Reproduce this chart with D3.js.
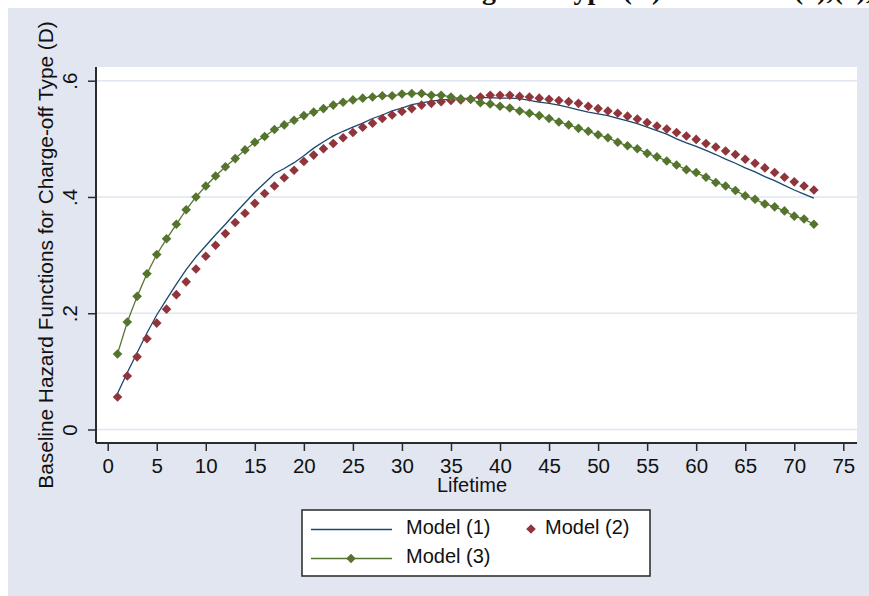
<!DOCTYPE html>
<html>
<head>
<meta charset="utf-8">
<script src="https://cdn.jsdelivr.net/npm/d3@7"></script>
<style>
  html, body { margin: 0; padding: 0; background: #ffffff; }
  svg { display: block; }
  text { font-family: "Liberation Sans", Arial, sans-serif; fill: #111; }
</style>
</head>
<body>
<svg id="chart" width="869" height="596"></svg>
<script>
// ---------------- data ----------------
const lifetime = [1,2,3,4,5,6,7,8,9,10,11,12,13,14,15,16,17,18,19,20,21,22,23,24,25,26,27,28,29,30,31,32,33,34,35,36,
  37,38,39,40,41,42,43,44,45,46,47,48,49,50,51,52,53,54,55,56,57,58,59,60,61,62,63,64,65,66,67,68,69,70,71,72];

const model1 = [0.062,0.098,0.132,0.166,0.197,0.224,0.250,0.275,0.297,0.316,0.335,0.353,0.372,0.390,0.408,0.424,0.440,0.449,
  0.459,0.471,0.484,0.495,0.505,0.513,0.520,0.527,0.535,0.541,0.548,0.553,0.559,0.562,0.565,0.567,0.568,0.569,
  0.570,0.571,0.571,0.570,0.570,0.569,0.566,0.563,0.561,0.558,0.554,0.550,0.546,0.543,0.540,0.535,0.531,0.526,
  0.520,0.514,0.508,0.500,0.493,0.487,0.480,0.473,0.465,0.458,0.450,0.443,0.435,0.428,0.420,0.412,0.405,0.398];

const model2 = [0.056,0.092,0.125,0.156,0.183,0.207,0.232,0.254,0.276,0.298,0.317,0.337,0.356,0.372,0.389,0.406,0.419,0.433,
  0.446,0.461,0.472,0.483,0.492,0.502,0.511,0.520,0.527,0.535,0.541,0.547,0.552,0.558,0.561,0.564,0.566,0.567,
  0.568,0.572,0.575,0.575,0.575,0.573,0.572,0.570,0.568,0.566,0.564,0.561,0.556,0.552,0.548,0.544,0.539,0.534,
  0.528,0.522,0.517,0.511,0.505,0.499,0.492,0.486,0.479,0.473,0.465,0.458,0.450,0.442,0.434,0.426,0.419,0.412];

const model3 = [0.130,0.185,0.229,0.268,0.301,0.328,0.353,0.378,0.400,0.419,0.436,0.452,0.466,0.481,0.494,0.504,0.516,0.524,
  0.532,0.540,0.546,0.552,0.558,0.563,0.567,0.570,0.572,0.574,0.574,0.577,0.578,0.578,0.575,0.575,0.572,0.569,
  0.568,0.562,0.560,0.556,0.553,0.548,0.544,0.540,0.535,0.529,0.524,0.518,0.513,0.507,0.502,0.494,0.488,0.483,
  0.475,0.469,0.462,0.455,0.447,0.442,0.434,0.425,0.419,0.411,0.402,0.396,0.388,0.383,0.376,0.367,0.362,0.353];

const xTicks = [0,5,10,15,20,25,30,35,40,45,50,55,60,65,70,75];
const yTicks = [0, 0.2, 0.4, 0.6];
const yTickLabels = ["0", ".2", ".4", ".6"];
const seriesNames = ["Model (1)", "Model (2)", "Model (3)"];
const titleText = "Baseline Hazard Functions for Charge-off Type (D) for Model (1),(2),(3)";
const yTitle = "Baseline Hazard Functions for Charge-off Type (D)";
const xTitle = "Lifetime";

// ---------------- layout ----------------
const svg = d3.select("#chart");
const W = 869, H = 596;
const colors = { navy: "#1a476f", maroon: "#90353b", green: "#55752f" };
const plot = { left: 96, right: 857, top: 67, bottom: 443 };

// cut-off title at very top (on white strip): only descenders show, as in the reference
const title = svg.append("text")
  .attr("x", 0).attr("y", -1)
  .style("font-family", '"Liberation Serif", "Times New Roman", serif')
  .style("font-weight", "bold")
  .style("font-size", "28px")
  .text(titleText);
const gIdx = titleText.indexOf("Charge") + 4;
const gPos = title.node().getStartPositionOfChar(gIdx).x;
title.attr("x", 482 - gPos);

// graph region
svg.append("rect").attr("x", 8).attr("y", 8).attr("width", W - 8).attr("height", H - 8)
  .attr("fill", "#e1e6f0");

// plot region
svg.append("rect").attr("x", plot.left).attr("y", plot.top)
  .attr("width", plot.right - plot.left).attr("height", plot.bottom - plot.top)
  .attr("fill", "#ffffff");

const x = d3.scaleLinear().domain([0, 75]).range([107.7, 843.3]);
const y = d3.scaleLinear().domain([0, 0.6]).range([429.5, 80.7]);

// gridlines
svg.append("g").selectAll("line").data(yTicks).join("line")
  .attr("x1", plot.left).attr("x2", plot.right)
  .attr("y1", d => y(d)).attr("y2", d => y(d))
  .attr("stroke", "#dfe5f1").attr("stroke-width", 1.6);

// axes
const xAxis = d3.axisBottom(x).tickValues(xTicks).tickSize(8).tickPadding(7).tickSizeOuter(0);
const gx = svg.append("g").attr("transform", `translate(0,${plot.bottom})`).call(xAxis);
gx.select(".domain").attr("d", `M${plot.left},0H${plot.right}`).attr("stroke", "#2b2b2b").attr("stroke-width", 2);
gx.selectAll(".tick line").attr("stroke", "#2b2b2b").attr("stroke-width", 1.5);
gx.selectAll(".tick text").style("font-size", "20.5px").style("font-family", '"Liberation Sans", Arial, sans-serif')
  .attr("fill", "#111").attr("dy", "0.71em");

const yAxis = d3.axisLeft(y).tickValues(yTicks).tickFormat((d, i) => yTickLabels[i]).tickSize(8).tickSizeOuter(0);
const gy = svg.append("g").attr("transform", `translate(${plot.left},0)`).call(yAxis);
gy.select(".domain").attr("d", `M0,${plot.top}V${plot.bottom}`).attr("stroke", "#2b2b2b").attr("stroke-width", 2);
gy.selectAll(".tick line").attr("stroke", "#2b2b2b").attr("stroke-width", 1.5);
gy.selectAll(".tick text")
  .style("font-size", "20.5px").style("font-family", '"Liberation Sans", Arial, sans-serif')
  .attr("fill", "#111")
  .attr("x", null).attr("dy", null)
  .attr("text-anchor", "middle")
  .attr("transform", "translate(-19.5,0) rotate(-90)");

// axis titles
svg.append("text").attr("x", 472).attr("y", 492).attr("text-anchor", "middle")
  .style("font-size", "20px").text(xTitle);
svg.append("text").attr("transform", "translate(52.5,255) rotate(-90)").attr("text-anchor", "middle")
  .style("font-size", "20.8px").text(yTitle);

// series
const pts = (arr) => lifetime.map((t, i) => [t, arr[i]]);
const line = d3.line().x(d => x(d[0])).y(d => y(d[1]));
const diamond = d3.symbol().type(d3.symbolSquare).size(46);

svg.append("path").datum(pts(model1)).attr("d", line)
  .attr("fill", "none").attr("stroke", colors.navy).attr("stroke-width", 1.3);

svg.append("g").selectAll("path").data(pts(model2)).join("path")
  .attr("d", diamond)
  .attr("transform", d => `translate(${x(d[0])},${y(d[1])}) rotate(45)`)
  .attr("fill", colors.maroon);

svg.append("path").datum(pts(model3)).attr("d", line)
  .attr("fill", "none").attr("stroke", colors.green).attr("stroke-width", 1.3);
svg.append("g").selectAll("path").data(pts(model3)).join("path")
  .attr("d", diamond)
  .attr("transform", d => `translate(${x(d[0])},${y(d[1])}) rotate(45)`)
  .attr("fill", colors.green);

// legend
const lg = svg.append("g");
lg.append("rect").attr("x", 302).attr("y", 510).attr("width", 348).attr("height", 66)
  .attr("fill", "#ffffff").attr("stroke", "#333").attr("stroke-width", 1.6);
lg.append("line").attr("x1", 311).attr("x2", 392).attr("y1", 529.5).attr("y2", 529.5)
  .attr("stroke", colors.navy).attr("stroke-width", 1.3);
lg.append("text").attr("x", 406).attr("y", 533.5).style("font-size", "20px").text(seriesNames[0]);
lg.append("path").attr("d", diamond).attr("transform", "translate(531,529) rotate(45)").attr("fill", colors.maroon);
lg.append("text").attr("x", 545).attr("y", 533.5).style("font-size", "20px").text(seriesNames[1]);
lg.append("line").attr("x1", 311).attr("x2", 392).attr("y1", 558.5).attr("y2", 558.5)
  .attr("stroke", colors.green).attr("stroke-width", 1.3);
lg.append("path").attr("d", diamond).attr("transform", "translate(351,558.5) rotate(45)").attr("fill", colors.green);
lg.append("text").attr("x", 406).attr("y", 563).style("font-size", "20px").text(seriesNames[2]);
</script>
</body>
</html>
